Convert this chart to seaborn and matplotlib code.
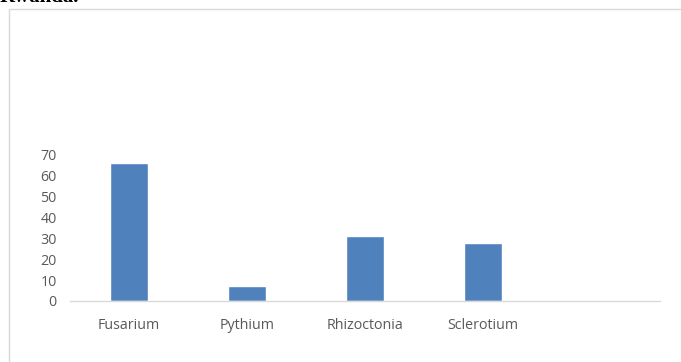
import matplotlib
matplotlib.use("Agg")
import matplotlib.pyplot as plt
import matplotlib.patches as mpatches
import seaborn as sns
import pandas as pd

# Pathogen genera and their counts
genera = ["Fusarium", "Pythium", "Rhizoctonia", "Sclerotium"]
counts = [66, 7, 31, 28]
y_ticks = [0, 10, 20, 30, 40, 50, 60, 70]

df = pd.DataFrame({"genus": genera, "count": counts})

sns.set_theme(style="white")
plt.rcParams["font.family"] = ["Open Sans", "DejaVu Sans"]

W, H = 681, 362
fig = plt.figure(figsize=(W / 100, H / 100), dpi=100)
fig.patch.set_facecolor("white")

# Chart frame (runs off the right and bottom edges)
frame = mpatches.Rectangle((9 / W, -0.1), 1.2, 1 - 9 / H + 0.1,
                           transform=fig.transFigure, fill=False,
                           edgecolor="#d9d9d9", linewidth=1.0)
fig.add_artist(frame)

# Heading line sitting above the frame, mostly above the page top
fig.text(0 / W, 1 - 2.5 / H, "Rwanda.", ha="left", va="baseline",
         fontsize=15, family="Liberation Serif", fontweight="bold",
         color="black")

ax = fig.add_axes([70 / W, 1 - 301 / H, 590 / W, 146 / H])
sns.barplot(data=df, x="genus", y="count", order=genera, color="#4f81bd",
            width=0.32, saturation=1, ax=ax)

ax.set_xlim(-0.5, 4.5)
ax.set_ylim(0, 70)
ax.set_yticks(y_ticks)
ax.set_yticklabels([str(v) for v in y_ticks])
ax.set_xlabel("")
ax.set_ylabel("")

for side in ["top", "right", "left"]:
    ax.spines[side].set_visible(False)
ax.spines["bottom"].set_color("#d9d9d9")
ax.spines["bottom"].set_linewidth(1.0)

ax.tick_params(axis="both", length=0, labelsize=10.3, labelcolor="#595959")
ax.tick_params(axis="x", pad=12.5)
ax.tick_params(axis="y", pad=9.5)
ax.set_facecolor("none")

fig.savefig("out.png", dpi=100)
